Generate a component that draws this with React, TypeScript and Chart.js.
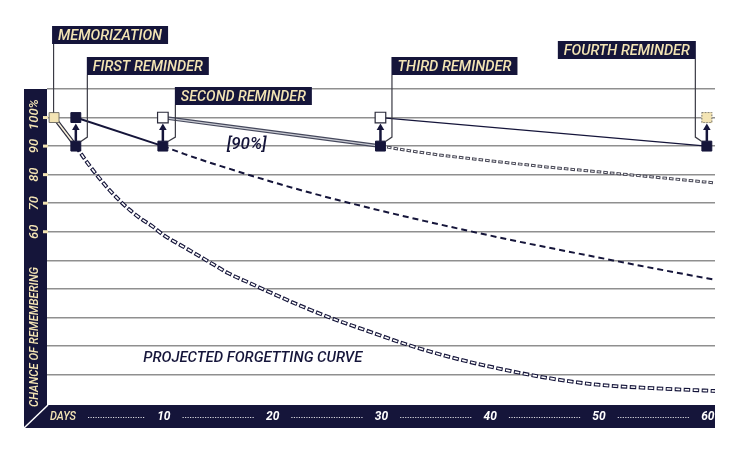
import React, { useEffect, useRef } from 'react';
import { Chart, registerables } from 'chart.js';

Chart.register(...registerables);

// ---------------- data ----------------
const eventDays = [0, 2, 10, 30, 60];
const eventLabels = ['MEMORIZATION', 'FIRST REMINDER', 'SECOND REMINDER', 'THIRD REMINDER', 'FOURTH REMINDER'];
const recallBefore: (number | null)[] = [null, 90, 90, 90, 90];
const recallAfter = [100, 100, 100, 100, 100];

// projected forgetting curves after each review
const curve1Days = [2, 3, 4, 5, 6, 7, 8, 9, 10, 12, 14, 16, 18, 20, 23, 26, 29, 32, 36, 40, 45, 50, 55, 60.75];
const curve1Values = [90, 84.5, 79.5, 75, 71, 67.5, 64.5, 62, 59, 54.5, 50, 45.5, 42, 38.5, 33.5, 29, 25, 21, 16.5, 12.8, 9, 6.4, 5.2, 4.2];
const curve2Days = [10, 12, 14, 16, 18, 22, 26, 30, 34, 38, 42, 46, 50, 54, 58, 60.75];
const curve2Values = [90, 87.2, 84.6, 82.2, 79.8, 75.3, 71.2, 67.4, 63.8, 60.4, 57.1, 54, 51, 48, 45.1, 43.2];
const curve3Days = [30, 33, 36, 40, 45, 50, 55, 60.75];
const curve3Values = [90, 88.2, 86.6, 84.9, 82.8, 81, 79.2, 77.1];

const yGridValues = [10, 20, 30, 40, 50, 60, 70, 80, 90, 100, 110];
const yTickValues = [100, 90, 80, 70, 60];
const yTickLabels = ['100%', '90', '80', '70', '60'];
const xTickValues = [10, 20, 30, 40, 50, 60];
const xTickLabels = ['10', '20', '30', '40', '50', '60'];
const xTitle = 'DAYS';
const yTitle = 'CHANCE OF REMEMBERING';
const targetText = '[90%]';
const targetAt = [17.7, 90.3];
const noteText = 'PROJECTED FORGETTING CURVE';
const noteAt = [8.2, 15.8];

// ---------------- styles ----------------
const NAVY = '#15153a';
const CREAM = '#f3e4b4';
const FONT = 'Roboto, "Noto Sans", sans-serif';

const topMarkerKinds = ['cream', 'dark', 'white', 'white', 'dotted'];
const calloutLayout = [
  { dx: -2, top: 26, w: 116, side: 'right' },
  { dx: 11, top: 57, w: 122, side: 'right' },
  { dx: 12, top: 87, w: 137, side: 'right' },
  { dx: 11, top: 57, w: 126, side: 'right' },
  { dx: -11, top: 41, w: 138, side: 'left' },
];
const linkStyles = [
  { outer: '#2a2a3c', ow: 4, inner: '#fbf3dc', iw: 1.6 },
  { outer: NAVY, ow: 2 },
  { outer: '#45485c', ow: 3.6, inner: '#c9cbd3', iw: 1.2 },
  { outer: NAVY, ow: 1.3 },
];

function pts(xs: number[], ys: number[]) {
  return xs.map((x, i) => ({ x, y: ys[i] }));
}

const decorPlugin = {
  id: 'decor',
  afterDraw(chart: any) {
    const ctx = chart.ctx as CanvasRenderingContext2D;
    const area = chart.chartArea;
    const xs = chart.scales.x;
    const ys = chart.scales.y;
    const px = (v: number) => xs.getPixelForValue(v);
    const py = (v: number) => ys.getPixelForValue(v);
    const barLeft = 24;
    const barBottom = area.bottom + 25;
    const barTop = area.bottom + 2;

    ctx.save();
    // frame bars
    ctx.fillStyle = NAVY;
    ctx.fillRect(barLeft, area.top, area.left - barLeft, barBottom - area.top);
    ctx.fillRect(barLeft, barTop, area.right - barLeft, barBottom - barTop);
    ctx.strokeStyle = '#ffffff';
    ctx.lineWidth = 1.5;
    ctx.beginPath();
    ctx.moveTo(barLeft, barBottom);
    ctx.lineTo(area.left + 1, barTop);
    ctx.stroke();

    // y ticks
    const yc = barLeft + (area.left - barLeft) / 2 - 0.5;
    ctx.fillStyle = CREAM;
    ctx.font = 'italic 500 13px ' + FONT;
    ctx.textAlign = 'center';
    ctx.textBaseline = 'middle';
    yTickValues.forEach((v, i) => {
      const y = py(v);
      ctx.fillRect(area.left - 4, y - 1.5, 5, 3);
      ctx.save();
      ctx.translate(yc, y - (i === 0 ? 3 : 0));
      ctx.rotate(-Math.PI / 2);
      ctx.fillText(yTickLabels[i], 0, 0);
      ctx.restore();
    });
    // y title
    ctx.save();
    ctx.font = 'italic 500 13px ' + FONT;
    ctx.translate(yc, area.bottom - 66);
    ctx.rotate(-Math.PI / 2);
    ctx.fillText(yTitle, 0, 0, 140);
    ctx.restore();

    // x axis
    const xy = barTop + 12;
    ctx.font = 'italic 500 13px ' + FONT;
    ctx.textAlign = 'left';
    ctx.fillStyle = CREAM;
    ctx.fillText(xTitle, area.left + 3, xy, 26);
    let prevRight = area.left + 3 + Math.min(26, ctx.measureText(xTitle).width);
    ctx.font = 'italic bold 12px ' + FONT;
    ctx.textAlign = 'center';
    xTickValues.forEach((v, i) => {
      const x = px(v) + 1;
      const w = ctx.measureText(xTickLabels[i]).width;
      ctx.strokeStyle = 'rgba(255,255,255,0.85)';
      ctx.lineWidth = 1;
      ctx.setLineDash([1.2, 1.3]);
      ctx.beginPath();
      ctx.moveTo(prevRight + 12, xy + 0.5);
      ctx.lineTo(x - w / 2 - 12, xy + 0.5);
      ctx.stroke();
      ctx.setLineDash([]);
      ctx.fillStyle = '#ffffff';
      ctx.fillText(xTickLabels[i], x, xy);
      prevRight = x + w / 2;
    });

    // arrows from before-review to after-review
    ctx.fillStyle = NAVY;
    ctx.strokeStyle = NAVY;
    eventDays.forEach((d, i) => {
      const b = recallBefore[i];
      if (b == null) return;
      const x = px(d);
      const y0 = py(b) - 5;
      const y1 = py(recallAfter[i]) + 6;
      ctx.lineWidth = 2.5;
      ctx.beginPath();
      ctx.moveTo(x, y0);
      ctx.lineTo(x, y1 + 4);
      ctx.stroke();
      ctx.beginPath();
      ctx.moveTo(x, y1);
      ctx.lineTo(x - 3.8, y1 + 6.5);
      ctx.lineTo(x + 3.8, y1 + 6.5);
      ctx.closePath();
      ctx.fill();
    });

    // callouts
    eventDays.forEach((d, i) => {
      const L = calloutLayout[i];
      const x = px(d);
      const left = L.side === 'right' ? x + L.dx : x + L.dx - L.w;
      const h = 18;
      ctx.strokeStyle = '#3a3a44';
      ctx.lineWidth = 1.2;
      ctx.beginPath();
      const b = recallBefore[i];
      if (b == null) {
        ctx.moveTo(x - 0.5, L.top + h);
        ctx.lineTo(x - 0.5, py(recallAfter[i]) - 5);
      } else {
        const cx = L.side === 'right' ? left + 0.5 : left + L.w - 0.5;
        const yb = py(b);
        ctx.moveTo(cx, L.top + h);
        ctx.lineTo(cx, yb - 9);
        ctx.lineTo(x + (L.side === 'right' ? 5 : -5), yb - 4.5);
      }
      ctx.stroke();
      ctx.fillStyle = NAVY;
      ctx.fillRect(left, L.top, L.w, h);
      ctx.fillStyle = CREAM;
      ctx.font = 'italic 500 15px ' + FONT;
      ctx.textAlign = 'left';
      ctx.textBaseline = 'middle';
      ctx.fillText(eventLabels[i], left + 6, L.top + h / 2 + 1, L.w - 12);
    });

    // annotations
    ctx.fillStyle = NAVY;
    ctx.font = 'italic 500 17px ' + FONT;
    ctx.textAlign = 'center';
    ctx.fillText(targetText, px(targetAt[0]), py(targetAt[1]), 46);
    ctx.font = 'italic 500 15px ' + FONT;
    ctx.textAlign = 'left';
    ctx.fillText(noteText, px(noteAt[0]), py(noteAt[1]), 219);
    ctx.restore();
  },
};

export default function App() {
  const ref = useRef<HTMLCanvasElement>(null);
  useEffect(() => {
    document.body.style.margin = '0';
    const canvas = ref.current!;

    const dotted = document.createElement('canvas');
    dotted.width = 13;
    dotted.height = 13;
    const dc = dotted.getContext('2d')!;
    dc.fillStyle = CREAM;
    dc.fillRect(1, 1, 11, 11);
    dc.strokeStyle = '#6b6b6b';
    dc.lineWidth = 1;
    dc.setLineDash([1.5, 1.5]);
    dc.strokeRect(1.5, 1.5, 10, 10);

    // markers
    const mPts: any[] = [];
    const mBg: string[] = [];
    const mBorder: string[] = [];
    const mBW: number[] = [];
    const mStyle: any[] = [];
    const mRad: number[] = [];
    eventDays.forEach((d, i) => {
      const b = recallBefore[i];
      if (b != null) {
        mPts.push({ x: d, y: b });
        mBg.push(NAVY); mBorder.push(NAVY); mBW.push(1); mStyle.push('rect'); mRad.push(7);
      }
      mPts.push({ x: d, y: recallAfter[i] });
      const k = topMarkerKinds[i];
      if (k === 'cream') { mBg.push(CREAM); mBorder.push('#77746a'); mBW.push(1); mStyle.push('rect'); mRad.push(7); }
      else if (k === 'dark') { mBg.push(NAVY); mBorder.push(NAVY); mBW.push(1); mStyle.push('rect'); mRad.push(7); }
      else if (k === 'white') { mBg.push('#ffffff'); mBorder.push('#2a2a3a'); mBW.push(1.2); mStyle.push('rect'); mRad.push(7.5); }
      else { mBg.push(CREAM); mBorder.push('#777'); mBW.push(0); mStyle.push(dotted); mRad.push(7); }
    });

    const datasets: any[] = [];
    datasets.push({
      data: mPts, showLine: false, order: 0,
      pointStyle: mStyle, pointRadius: mRad, pointBackgroundColor: mBg,
      pointBorderColor: mBorder, pointBorderWidth: mBW, pointHoverRadius: mRad,
    });

    const line = (data: any[], color: string, width: number, order: number, extra: any = {}) => ({
      data, borderColor: color, borderWidth: width, pointRadius: 0, pointHoverRadius: 0,
      fill: false, order, borderCapStyle: 'butt', ...extra,
    });

    // links review -> next review
    for (let i = 0; i < eventDays.length - 1; i++) {
      const s = linkStyles[i];
      const data = [
        { x: eventDays[i], y: recallAfter[i] },
        { x: eventDays[i + 1], y: recallBefore[i + 1] as number },
      ];
      if (s.inner) datasets.push(line(data, s.inner, s.iw as number, 1 + i * 2));
      datasets.push(line(data, s.outer, s.ow, 2 + i * 2));
    }

    const smooth = { cubicInterpolationMode: 'monotone' };
    const c1 = pts(curve1Days, curve1Values);
    const c2 = pts(curve2Days, curve2Values);
    const c3 = pts(curve3Days, curve3Values);
    datasets.push(line(c1, '#ffffff', 1.6, 11, { ...smooth, borderDash: [4.5, 4.5], borderDashOffset: -1 }));
    datasets.push(line(c1, NAVY, 3.8, 12, { ...smooth, borderDash: [6.5, 2.5] }));
    datasets.push(line(c3, '#ffffff', 1, 13, { ...smooth, borderDash: [2.6, 4], borderDashOffset: -1 }));
    datasets.push(line(c3, '#4a4a58', 3, 14, { ...smooth, borderDash: [4.6, 2] }));
    datasets.push(line(c2, NAVY, 2, 15, { ...smooth, borderDash: [6, 4] }));

    const chart = new Chart(canvas, {
      type: 'line',
      data: { datasets },
      options: {
        animation: false,
        responsive: false,
        events: [],
        layout: { padding: { left: 47, top: 89, right: 25, bottom: 52 }, autoPadding: false },
        plugins: { legend: { display: false }, tooltip: { enabled: false } },
        scales: {
          x: { type: 'linear', min: -0.65, max: 60.75, display: false },
          y: {
            type: 'linear', min: 0, max: 110, display: true,
            border: { display: false },
            ticks: { display: false },
            grid: { color: '#8f8f8f', lineWidth: 1.4, drawTicks: false },
            afterBuildTicks: (axis: any) => { axis.ticks = yGridValues.map((v) => ({ value: v })); },
          },
        },
      } as any,
      plugins: [decorPlugin],
    });
    return () => chart.destroy();
  }, []);

  return (
    <div style={{ width: 740, height: 455, background: '#ffffff' }}>
      <canvas ref={ref} width={740} height={455} style={{ display: 'block' }} />
    </div>
  );
}
